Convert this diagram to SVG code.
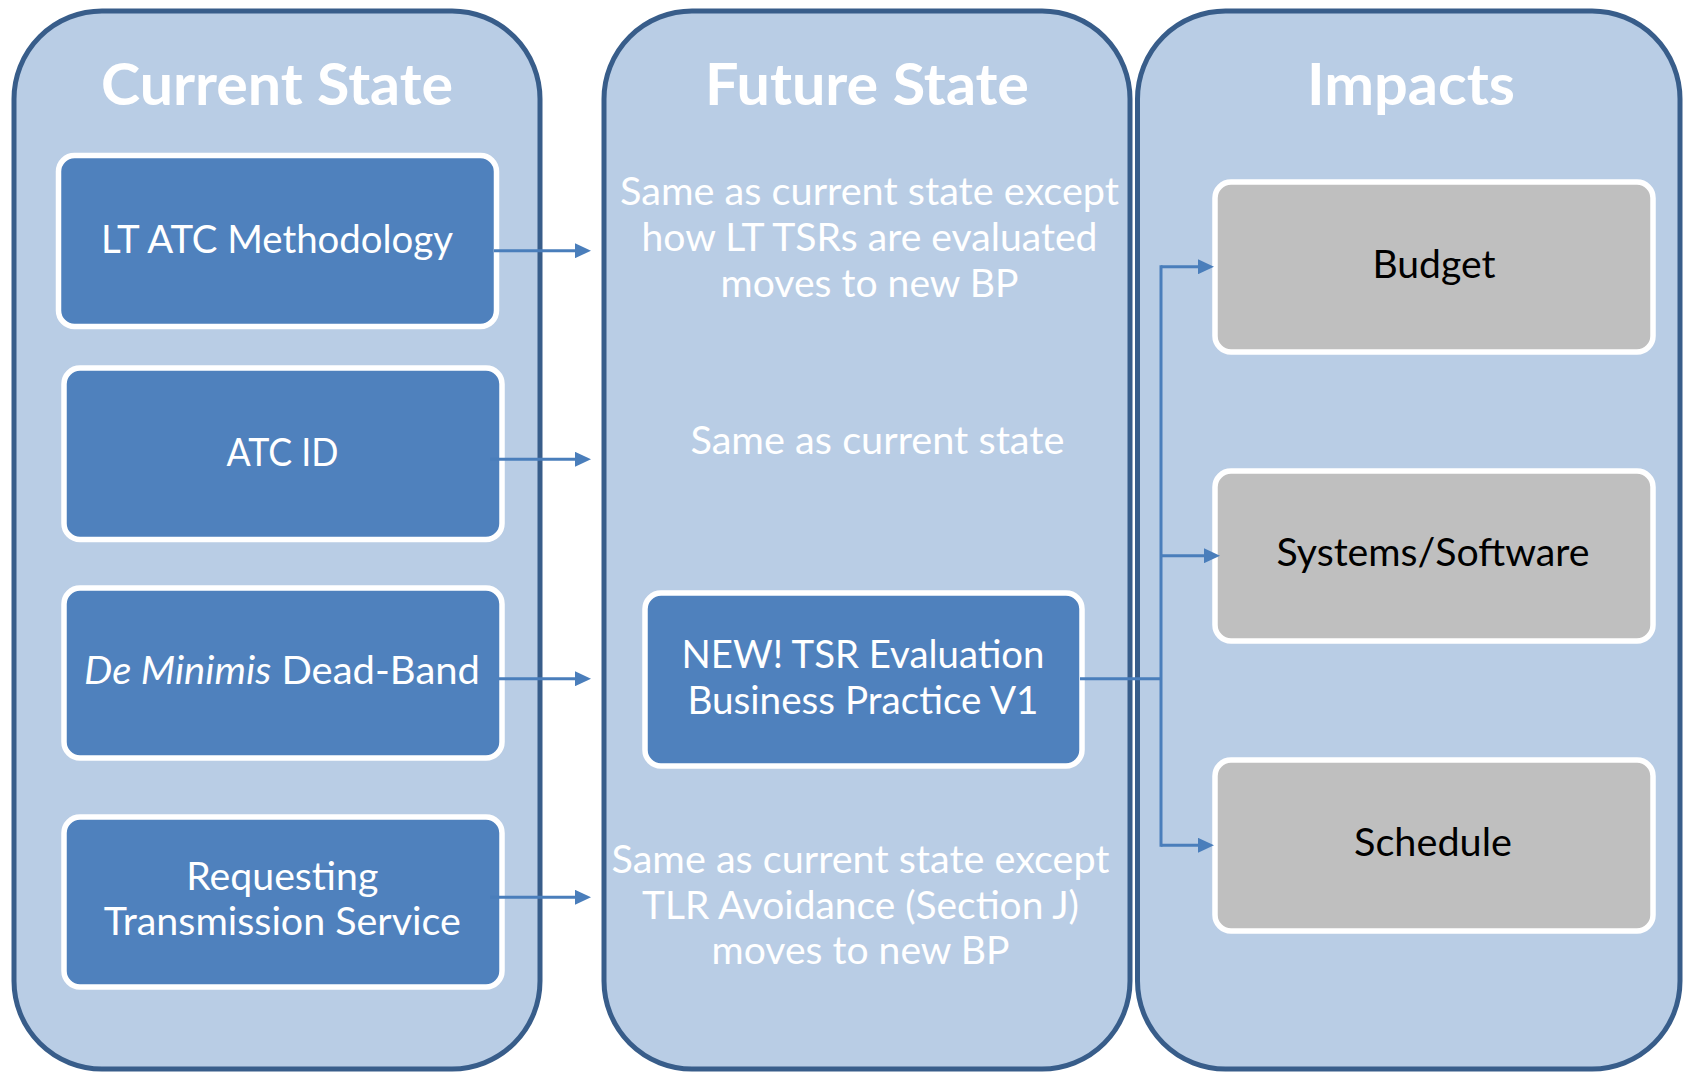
<svg xmlns="http://www.w3.org/2000/svg" width="1684" height="1073" viewBox="0 0 1684 1073">
<style>
.panel{fill:#B9CDE5;stroke:#385D8A;stroke-width:5}
.box{fill:#4F81BD;stroke:#FFFFFF;stroke-width:5.5}
.gbox{fill:#BFBFBF;stroke:#FFFFFF;stroke-width:5.5}
.title{font-family:Lato,"Open Sans",sans-serif;font-weight:bold;font-size:57px;fill:#FFFFFF;text-anchor:middle}
.t{font-family:Lato,"Open Sans",sans-serif;font-size:38px;fill:#FFFFFF;text-anchor:middle}
.tk{font-family:Lato,"Open Sans",sans-serif;font-size:38px;fill:#000000;text-anchor:middle}
.conn{fill:none;stroke:#4A7EBB;stroke-width:3}
</style>
<defs>
<marker id="arr" markerUnits="userSpaceOnUse" markerWidth="16" markerHeight="15" refX="4" refY="7.5" orient="auto">
<path d="M0,0 L16,7.5 L0,15 z" fill="#4A7EBB"/>
</marker>
</defs>

<g id="panel-current">
<rect class="panel" x="14" y="11" width="526" height="1058" rx="88" ry="88"/>
<text class="title" x="277" y="105" textLength="352" lengthAdjust="spacingAndGlyphs">Current State</text>
</g>
<g id="panel-future">
<rect class="panel" x="604" y="11" width="526" height="1058" rx="88" ry="88"/>
<text class="title" x="867" y="105" textLength="324" lengthAdjust="spacingAndGlyphs">Future State</text>
</g>
<g id="panel-impacts">
<rect class="panel" x="1137.5" y="11" width="542.5" height="1058" rx="88" ry="88"/>
<text class="title" x="1411" y="105" textLength="208" lengthAdjust="spacingAndGlyphs">Impacts</text>
</g>

<g id="node-lt-atc">
<rect class="box" x="58.5" y="155.5" width="438" height="171" rx="16" ry="16"/>
<text class="t" x="277" y="253" textLength="352" lengthAdjust="spacingAndGlyphs">LT ATC Methodology</text>
</g>
<g id="node-atc-id">
<rect class="box" x="64" y="368" width="438" height="171.5" rx="16" ry="16"/>
<text class="t" x="282.5" y="466" textLength="112" lengthAdjust="spacingAndGlyphs">ATC ID</text>
</g>
<g id="node-de-minimis">
<rect class="box" x="64" y="588" width="438" height="170" rx="16" ry="16"/>
<text class="t" x="282" y="684" textLength="396" lengthAdjust="spacingAndGlyphs"><tspan font-style="italic">De Minimis</tspan> Dead-Band</text>
</g>
<g id="node-requesting">
<rect class="box" x="64" y="817" width="438" height="170" rx="16" ry="16"/>
<text class="t" x="282.3" y="890" textLength="192" lengthAdjust="spacingAndGlyphs">Requesting</text>
<text class="t" x="282.3" y="935" textLength="357" lengthAdjust="spacingAndGlyphs">Transmission Service</text>
</g>

<g id="node-future-1">
<text class="t" x="869.5" y="205" textLength="499" lengthAdjust="spacingAndGlyphs">Same as current state except</text>
<text class="t" x="869.5" y="251" textLength="456" lengthAdjust="spacingAndGlyphs">how LT TSRs are evaluated</text>
<text class="t" x="869.5" y="297" textLength="298" lengthAdjust="spacingAndGlyphs">moves to new BP</text>
</g>
<g id="node-future-2">
<text class="t" x="877.4" y="454" textLength="374" lengthAdjust="spacingAndGlyphs">Same as current state</text>
</g>
<g id="node-new-bp">
<rect class="box" x="645" y="593" width="437" height="173" rx="16" ry="16"/>
<text class="t" x="863" y="667.5" textLength="363" lengthAdjust="spacingAndGlyphs">NEW! TSR Evaluation</text>
<text class="t" x="863" y="713.5" textLength="351" lengthAdjust="spacingAndGlyphs">Business Practice V1</text>
</g>
<g id="node-future-4">
<text class="t" x="860.5" y="872.5" textLength="498" lengthAdjust="spacingAndGlyphs">Same as current state except</text>
<text class="t" x="860.5" y="918.5" textLength="437" lengthAdjust="spacingAndGlyphs">TLR Avoidance (Section J)</text>
<text class="t" x="860.5" y="964" textLength="298" lengthAdjust="spacingAndGlyphs">moves to new BP</text>
</g>

<g id="node-budget">
<rect class="gbox" x="1215" y="182" width="438" height="170" rx="16" ry="16"/>
<text class="tk" x="1434" y="277.5" textLength="123" lengthAdjust="spacingAndGlyphs">Budget</text>
</g>
<g id="node-systems">
<rect class="gbox" x="1215" y="471" width="438" height="170" rx="16" ry="16"/>
<text class="tk" x="1433" y="566" textLength="313" lengthAdjust="spacingAndGlyphs">Systems/Software</text>
</g>
<g id="node-schedule">
<rect class="gbox" x="1215" y="760" width="438" height="171" rx="16" ry="16"/>
<text class="tk" x="1433" y="856" textLength="158" lengthAdjust="spacingAndGlyphs">Schedule</text>
</g>

<g id="connectors">
<path class="conn" d="M494,250.7 H579" marker-end="url(#arr)"/>
<path class="conn" d="M490,459.3 H579" marker-end="url(#arr)"/>
<path class="conn" d="M499,678.7 H579" marker-end="url(#arr)"/>
<path class="conn" d="M490,897.3 H579" marker-end="url(#arr)"/>
<path class="conn" d="M1080,678.7 H1161"/>
<path class="conn" d="M1161,265.2 V846.8"/>
<path class="conn" d="M1161,266.7 H1202" marker-end="url(#arr)"/>
<path class="conn" d="M1161,555.7 H1208" marker-end="url(#arr)"/>
<path class="conn" d="M1161,845.3 H1202" marker-end="url(#arr)"/>
</g>
</svg>
